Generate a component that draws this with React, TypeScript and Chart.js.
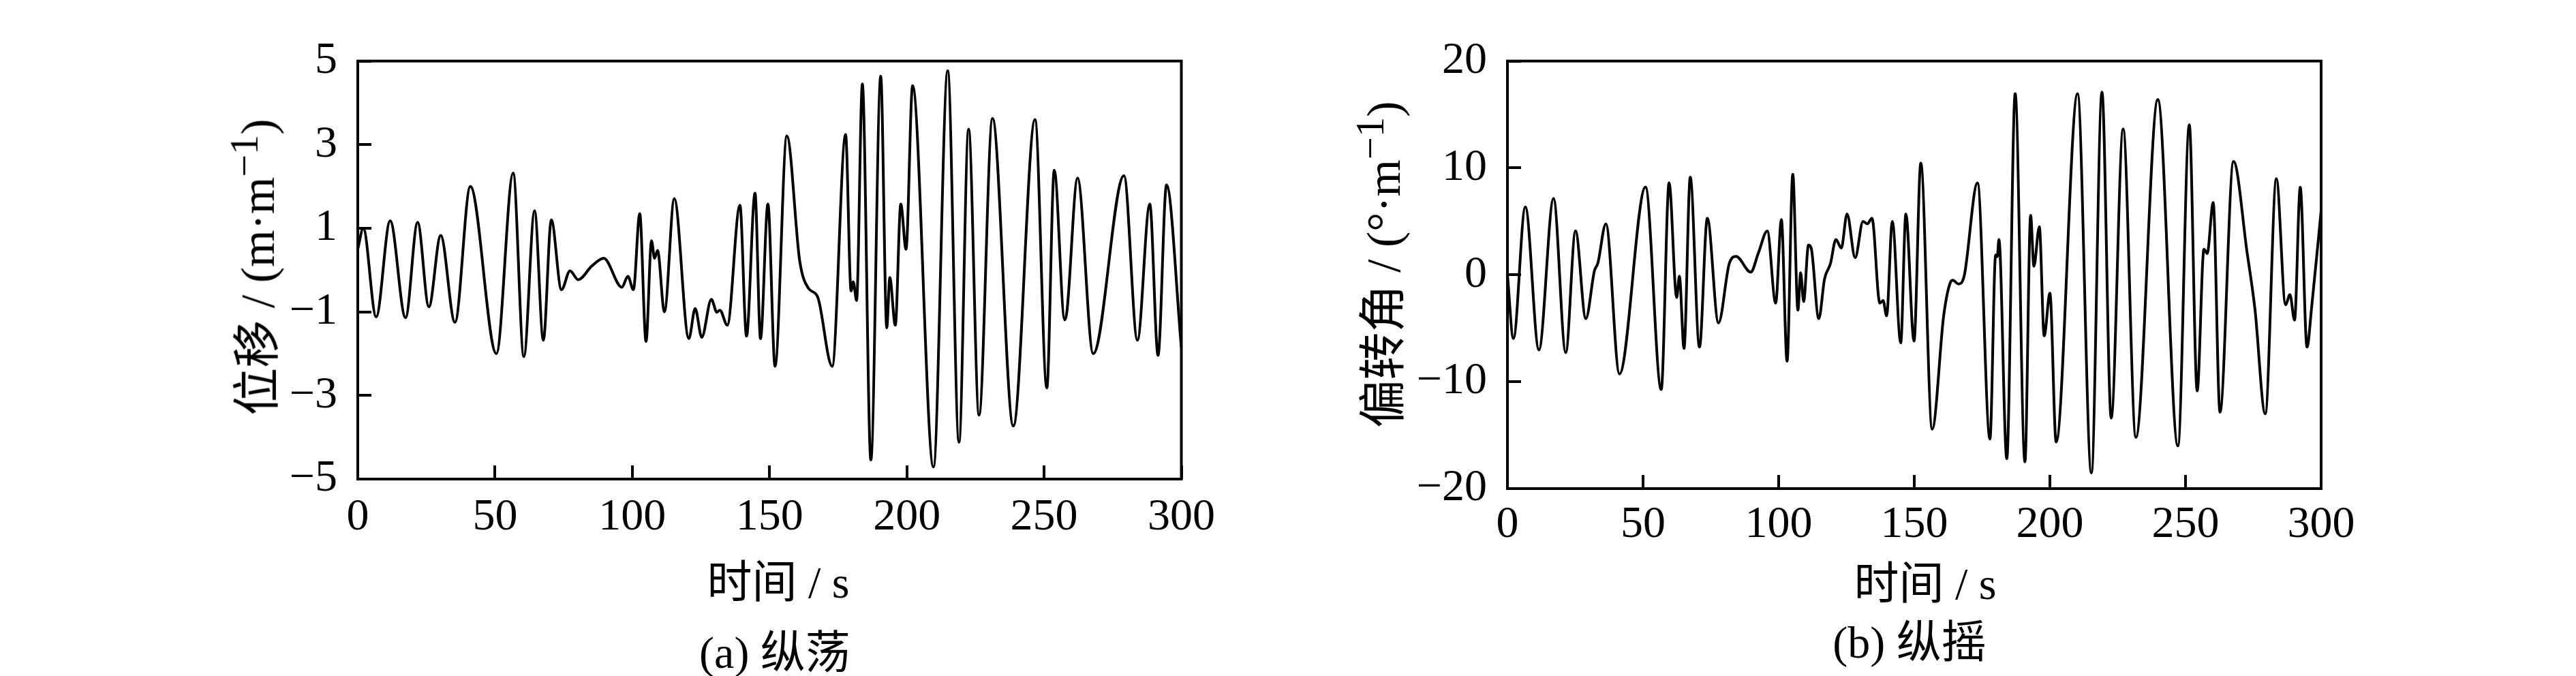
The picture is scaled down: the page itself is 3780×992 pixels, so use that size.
import React, { useEffect, useRef } from 'react';
import { Chart, registerables } from 'chart.js';

Chart.register(...registerables);

// (a) 纵荡 — time (s) and displacement at the turning points of the record
const surgeTime = [
  0, 2.0, 6.7, 11.8, 17.4, 21.8, 25.9, 30.2, 35.4, 41.0, 50.5, 56.6, 60.5, 64.4, 67.6, 70.5,
  74.2, 77.3, 80.3, 85.3, 89.6, 96.2, 98.4, 100.4, 102.7, 105.0, 107.0, 108.1, 109.2, 111.7,
  115.3, 120.6, 122.9, 125.3, 128.8, 130.8, 131.9, 134.6, 139.2, 141.6, 144.7, 146.7, 149.4,
  152.0, 156.3, 161.0, 164.2, 167.5, 172.8, 177.7, 179.7, 180.5, 181.7, 183.8, 186.9, 190.5,
  192.7, 193.8, 195.8, 197.8, 199.7, 202.1, 209.7, 214.9, 219.0, 222.5, 226.3, 231.2, 238.8,
  246.7, 251.0, 253.7, 257.5, 258.3, 262.2, 267.9, 279.1, 284.0, 288.5, 291.5, 294.6, 300,
];
const surgeValue = [
  0.5, 1.0, -1.12, 1.18, -1.14, 1.14, -0.88, 0.83, -1.25, 2.0, -2.0, 2.32, -2.07, 1.42, -1.68, 1.2,
  -0.47, -0.02, -0.23, 0.1, 0.28, -0.41, -0.15, -0.47, 1.35, -1.71, 0.7, 0.28, 0.47, -1.0,
  1.71, -1.64, -0.92, -1.61, -0.7, -1.01, -0.96, -1.32, 1.55, -1.58, 1.84, -1.64, 1.58,
  -2.3, 3.21, 0.21, -0.44, -0.64, -2.3, 3.24, -0.5, -0.28, -0.73, 4.45, -4.54, 4.64,
  -1.38, -0.18, -1.32, 1.58, 0.5, 4.41, -4.71, 4.77, -4.12, 3.37, -3.47, 3.63, -3.73,
  3.6, -2.82, 2.39, -1.19, -1.0, 2.2, -2.0, 2.26, -1.68, 1.58, -2.04, 2.04, -1.85,
];

// (b) 纵摇 — time (s) and pitch angle at the turning points of the record
const pitchTime = [
  0, 2.2, 6.6, 11.6, 17.0, 21.5, 25.1, 28.9, 32.1, 33.3, 36.3, 41.3, 50.9, 56.7, 59.6, 62.4,
  63.4, 65.1, 67.4, 70.8, 73.7, 77.8, 81.8, 84.3, 89.7, 92.6, 95.8, 98.9, 101.0, 103.1, 105.2,
  107.1, 108.1, 109.2, 111.0, 112.0, 114.8, 116.9, 119.1, 121.1, 123.1, 125.2, 128.2, 131.1,
  132.7, 134.4, 137.3, 138.5, 139.8, 141.9, 145.0, 146.9, 149.9, 152.4, 156.6, 160.9, 163.4,
  164.2, 166.3, 168.4, 173.3, 177.9, 180.0, 180.6, 181.2, 184.1, 187.2, 190.8, 192.9, 194.1,
  196.1, 197.9, 200.0, 202.3, 210.2, 215.3, 219.2, 222.6, 227.0, 231.7, 239.8, 247.2, 251.4,
  254.3, 256.8, 258.0, 260.2, 262.7, 267.7, 272.7, 275.6, 279.4, 283.5, 286.9, 288.5, 290.2,
  292.3, 294.8, 296.5, 300,
];
const pitchValue = [
  0, -5.96, 6.36, -7.02, 7.15, -7.28, 4.11, -4.1, 0.4, 1.06, 4.77, -9.27, 8.21, -10.73, 8.61, -2.12,
  -0.13, -6.89, 9.14, -6.76, 5.3, -4.5, 1.06, 1.72, 0.26, 2.1, 4.1, -2.65, 5.17, -8.08, 9.4,
  -3.3, 0.2, -2.5, 2.8, 2.5, -4.1, -0.4, 1.06, 3.3, 2.5, 5.7, 1.6, 5.0,
  4.77, 5.3, -2.65, -2.4, -3.84, 5.0, -6.36, 5.7, -6.2, 10.46, -14.44, -3.7, -0.66,
  -0.5, -0.85, -0.1, 8.6, -15.36, 1.85, 1.7, 3.3, -17.2, 16.95, -17.5, 5.56, 0.8,
  4.5, -5.7, -1.72, -15.63, 16.95, -18.54, 17.1, -13.4, 13.64, -15.2, 16.4, -16.0, 14.04,
  -10.86, 2.4, 2.0, 6.76, -12.85, 10.6, 2.1, -3.2, -13.0, 9.0, -2.8, -1.85, -4.24,
  8.2, -6.76, -3.05, 6.0,
];

const timeTicks = [0, 50, 100, 150, 200, 250, 300];
const surgeTicks = [-5, -3, -1, 1, 3, 5];
const pitchTicks = [-20, -10, 0, 10, 20];

const SERIF = '"Liberation Serif", "Times New Roman", "Noto Sans CJK SC", serif';

const fmt = (v: number) => (v < 0 ? '\u2212' + Math.abs(v) : String(v));

const framePlugin = {
  id: 'frame',
  afterDraw(chart: any) {
    const { ctx, chartArea } = chart;
    ctx.save();
    ctx.strokeStyle = '#000';
    ctx.lineWidth = 4;
    ctx.strokeRect(chartArea.left, chartArea.top, chartArea.right - chartArea.left, chartArea.bottom - chartArea.top);
    ctx.restore();
  },
};

interface PanelProps {
  times: number[];
  values: number[];
  yTicks: number[];
  left: number;
  width: number;
  height: number;
  padTop: number;
  padRight: number;
  yAxisWidth: number;
  xAxisHeight: number;
  xLabelPad: number;
}

const Panel: React.FC<PanelProps> = (p) => {
  const canvasRef = useRef<HTMLCanvasElement>(null);

  useEffect(() => {
    const tickFont = { family: SERIF, size: 66, lineHeight: 1.2 };
    const grid = { drawOnChartArea: false, drawTicks: true, tickLength: -20, lineWidth: 4, color: '#000' };
    const yMin = p.yTicks[0];
    const yMax = p.yTicks[p.yTicks.length - 1];

    const chart = new Chart(canvasRef.current as HTMLCanvasElement, {
      type: 'line',
      data: {
        datasets: [
          {
            data: p.times.map((t, i) => ({ x: t, y: p.values[i] })),
            borderColor: '#000',
            borderWidth: 4,
            pointRadius: 0,
            fill: false,
            cubicInterpolationMode: 'monotone',
          },
        ],
      },
      options: {
        animation: false,
        responsive: false,
        devicePixelRatio: 1,
        layout: { padding: { left: 0, top: p.padTop, right: p.padRight, bottom: 0 } },
        plugins: { legend: { display: false }, tooltip: { enabled: false } },
        scales: {
          x: {
            type: 'linear',
            min: timeTicks[0],
            max: timeTicks[timeTicks.length - 1],
            grid,
            border: { display: false },
            afterBuildTicks: (s: any) => { s.ticks = timeTicks.map((v) => ({ value: v })); },
            afterFit: (s: any) => { s.height = p.xAxisHeight; },
            ticks: { font: tickFont, color: '#000', padding: p.xLabelPad, maxRotation: 0, autoSkip: false },
          },
          y: {
            type: 'linear',
            min: yMin,
            max: yMax,
            grid,
            border: { display: false },
            afterBuildTicks: (s: any) => { s.ticks = p.yTicks.map((v) => ({ value: v })); },
            afterFit: (s: any) => { s.width = p.yAxisWidth; },
            ticks: { font: tickFont, color: '#000', padding: 50, callback: (v: any) => fmt(Number(v)) },
          },
        },
      },
      plugins: [framePlugin],
    } as any);

    return () => {
      chart.destroy();
    };
  }, []);

  return (
    <canvas
      ref={canvasRef}
      width={p.width}
      height={p.height}
      style={{ position: 'absolute', left: p.left, top: 0, width: p.width, height: p.height }}
    />
  );
};

const textStyle = (x: number, y: number, size: number, rotate = false): React.CSSProperties => ({
  position: 'absolute',
  left: x,
  top: y,
  fontFamily: SERIF,
  fontSize: size,
  lineHeight: 1,
  whiteSpace: 'nowrap',
  color: '#000',
  transform: `translate(-50%, -50%)${rotate ? ' rotate(-90deg)' : ''}`,
});

const App: React.FC = () => (
  <div style={{ position: 'absolute', left: 0, top: 0, width: 3780, height: 992, background: '#fff', overflow: 'hidden' }}>
    <Panel
      times={surgeTime}
      values={surgeValue}
      yTicks={surgeTicks}
      left={400}
      width={1420}
      height={800}
      padTop={60}
      padRight={68}
      yAxisWidth={125}
      xAxisHeight={97}
      xLabelPad={37}
    />
    <Panel
      times={pitchTime}
      values={pitchValue}
      yTicks={pitchTicks}
      left={2080}
      width={1420}
      height={820}
      padTop={59}
      padRight={94}
      yAxisWidth={132}
      xAxisHeight={103}
      xLabelPad={34}
    />
    <div style={textStyle(372, 392, 70, true)}>
      位移 / (m·m<sup>−1</sup>)
    </div>
    <div style={textStyle(1142, 855, 66)}>时间 / s</div>
    <div style={textStyle(1137, 958, 66)}>(a) 纵荡</div>
    <div style={textStyle(2024, 388, 70, true)}>
      偏转角 / (°·m<sup>−1</sup>)
    </div>
    <div style={textStyle(2825, 857, 66)}>时间 / s</div>
    <div style={textStyle(2802, 943, 66)}>(b) 纵摇</div>
  </div>
);

export default App;
